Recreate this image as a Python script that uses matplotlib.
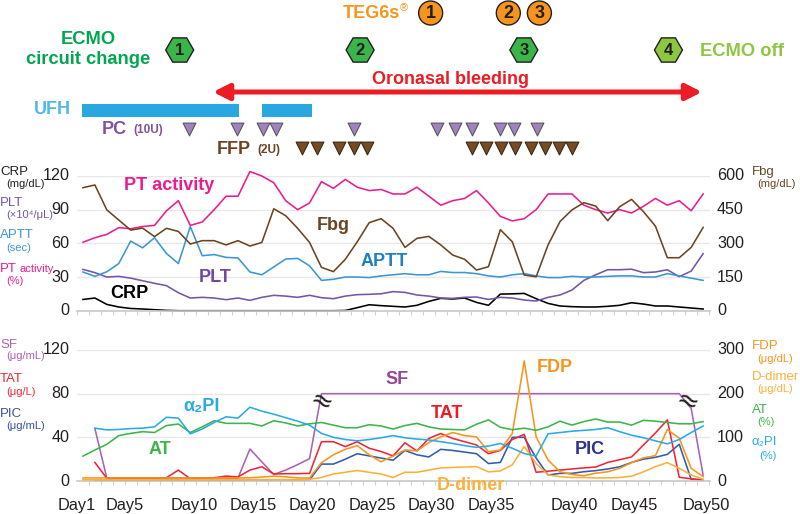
import matplotlib
matplotlib.use('Agg')
import matplotlib.pyplot as plt
from matplotlib.patches import Circle, RegularPolygon, Rectangle
from matplotlib.transforms import ScaledTranslation
import numpy as np

plt.rcParams['font.family'] = ['Liberation Sans', 'DejaVu Sans']

nan = float('nan')

# top panel
pt_activity = [61, 65, 68, 74, 73, 75, 76, 89, 98, 76, 79, 90, 102, 102, 124, 120, 114, 98, 90, 96, 115, 109, 117, 110, 107, 108,
               104, 104, 110, 102, 94, 98, 100, 107, 96, 84, 80, 82, 90, 104, 104, 104, 94, 90, 87, 90, 87, 93, 100, 94, 98, 89, 104]
aptt = [34.5, 30.6, 34.7, 42, 62, 56, 65, 51, 42, 75, 49, 50, 47.5, 47, 34.5, 32, 39, 46, 46.6, 40, 27, 28, 30, 30, 29.5, 31,
        32, 33, 32, 32, 35, 34, 34, 33, 31, 30, 32, 33, 31, 29.5, 29.5, 30.6, 30, 30, 30.6, 31, 31, 30, 30, 33, 31, 29, 27]
plt_count = [36.8, 33.9, 30, 30.6, 29, 26.7, 24.4, 22.3, 16, 11.3, 11.9, 11.3, 9.8, 11.3, 9.2, 11.9, 13.7, 13, 11.9, 13.7, 11.6, 10.7, 13, 14.3, 14.6, 15.1,
             17, 16.3, 14, 13, 11.3, 11, 11.9, 12.2, 10, 11.9, 11.3, 9.5, 8.6, 11.9, 14, 18.4, 27, 32, 36.5, 36.5, 37, 33.9, 34.5, 36.5, 30.3, 35.3, 50.8]
crp = [10, 11.3, 5.6, 3.3, 2, 1.5, 0.9, 0.3, 0, 0, 0, 0, 0, 0, 0, 0, 0, 0, 0, 0, 0, 0, 0.2, 2.7, 5.3, 4.5,
       3.9, 3.3, 4.8, 8.3, 11, 10.4, 11.3, 7.4, 4.8, 14.8, 15, 15.4, 10.7, 6.5, 4.2, 3.6, 3.3, 3.3, 3.9, 4.8, 7.1, 5.9, 4.2, 4.2, 3.3, 2.4, 1.5]
fbg = [548, 560, 449, 404, 359, 368, 330, 367, 353, 297, 312, 312, 293, 312, 288, 304, 454, 423, 367, 304, 193, 174, 229, 307, 392, 410,
       367, 282, 322, 331, 293, 248, 229, 181, 196, 361, 307, 159, 151, 293, 397, 449, 481, 466, 401, 463, 496, 441, 377, 236, 236, 282, 371]

# bottom panel
sf = [nan, 48, 2.7, 2.7, 2.7, 2.7, 2.7, 2.7, 2.7, 2.7, 2.7, 2.7, 2.7, 2.7, 29.3, 17.5, 6, 10, 15, 20.5, 80, 80, 80, 80, 80, 80,
      80, 80, 80, 80, 80, 80, 80, 80, 80, 80, 80, 80, 80, 80, 80, 80, 80, 80, 80, 80, 80, 80, 80, 80, 80, 66.5, 5.5]
tat = [nan, 17, 2.5, 2.5, 2.5, 2.5, 2.5, 3, 10, 2, 2.5, 3, 4.5, 3.7, 10, 13, 6.4, 6.7, 6.7, 7, 36, 36, 31.5, 36, 30, 27,
       23, 35, 27.5, 39, 43.5, 39, 36, 33, 25, 28, 38, 42.7, 8, 9, 10, 11, 12, 12.8, 17, 19.5, 22, 33, 44, 56, 3.4, 2, 1]
pic = [nan, 0.6, 0.6, 0.6, 0.6, 0.6, 0.6, 0.6, 0.6, 0.6, 0.6, 0.6, 0.6, 0.6, 0.8, 1, 1, 1, 1, 1, 15.5, 15.5, 20, 25, 23, 21,
       19, 28, 24, 22, 29, 28, 26.5, 25, 16, 17, 40, 40, 21, 5.5, 7, 7, 8.5, 9.5, 11, 13, 17, 20, 21.7, 24.4, 33.6, 1.5, 1]
fdp = [7, 7, 7, 7, 7, 7, 7, 7, 7, 7, 7, 7, 7, 7, 7.5, 9, 11, 9.5, 7, 7, 42, 60, 72.5, 81, 60, 44,
       57, 71, 69, 88, 101, 111, 104, 101, 67, 71, 109, 275, 101, 48, 21, 15, 12, 18, 21, 29, 42, 53, 58, 118, 98, 29, 10]
d_dimer = [3, 3, 3, 3, 3, 3, 3, 3, 3, 3, 3, 3, 3, 3, 3, 3, 3, 3, 3, 4, 8, 16, 20, 24, 20, 16,
           8, 20, 20, 25, 30, 31, 32, 33, 21, 23, 37, 79, 40, 14, 10, 8, 8, 7, 7, 8, 11, 21, 33, 42, 29, 14, 4]
at = [57, 71, 84, 104, 109, 113, 111, 127, 130.5, 111, 124, 138, 132, 132, 132, 126, 138, 133, 126, 131, 134, 128, 122, 122, 129, 126,
      119, 127, 132, 124, 119, 118, 117, 130, 140, 123, 117.5, 121, 116, 124, 137, 128, 136, 142, 135, 135, 128, 139, 137, 134, 131, 131, 136]
a2pi = [nan, 121, 117, 118, 120, 121, 124, 146, 144, 108, 119, 134, 147, 144, 169, 160, 153, 145, 137, 128, 109, 100, 95, 92, 95, 99,
        104, 99, 96, 94, 90, 86, 81, 77, 80, 86, 75, 63, 57, 108, 111, 114, 116, 118, 122, 113, 105, 99, 92, 85, 95, 111, 126]

days = np.arange(len(pt_activity))
day_labels = ['Day1', 'Day5', 'Day10', 'Day15', 'Day20', 'Day25', 'Day30', 'Day35', 'Day40', 'Day45', 'Day50']
day_pos = [-0.5, 3.54, 9.3, 14.25, 19.25, 24.25, 29.25, 34.25, 41.2, 46.2, 52.25]

# treatment marks, on the same day index
ufh_spans = [(0, 13.2), (15.1, 19.3)]
pc_days = [9, 13, 15.2, 16.3, 22.8, 29.7, 31.2, 32.7, 35, 36.2, 38.1]
ffp_days = [18.4, 19.7, 21.5, 22.8, 23.9, 32.7, 33.8, 35.1, 36.3, 37.6, 38.8, 39.9, 41]
teg_days = [29.2, 35.7, 38.3]
ecmo_days = [8.2, 23.3, 37, 49.1]

c_dark = '#231f20'
c_pt = '#EC1C8E'
c_fbg = '#6B4423'
c_aptt = '#3A96D6'
c_plt = '#7356A8'
c_sf = '#A864B4'
c_tat = '#EE2737'
c_fdp = '#F7941D'
c_dd = '#FBB03B'
c_pic = '#2F5DAE'
c_at = '#3CB54A'
c_a2 = '#29ABE2'

W, H = 800, 514
X0, DX = 81.7, 11.95
fig = plt.figure(figsize=(8, 5.14), dpi=100)


def day_x(d):
    return X0 + DX * d


def make_axes(top, bottom, ymax_left, yticks_left, ymax_right, yticks_right):
    ax = fig.add_axes([77 / W, 1 - bottom / H, (710 - 77) / W, (bottom - top) / H])
    ax.set_xlim((77 - X0) / DX, (710 - X0) / DX)
    ax.set_ylim(0, ymax_left)
    ax.set_yticks(yticks_left)
    ax.grid(axis='y', color='#e8e8e8', lw=1)
    ax.set_axisbelow(True)
    ax.set_xticks(np.arange(len(days) + 1) - 0.5, minor=True)
    ax.tick_params(axis='x', which='minor', length=3, width=0.8, color='#d0d0d0')
    ax.tick_params(axis='y', length=0, labelsize=11.6, pad=5.5, labelcolor=c_dark)
    for s in ['top', 'left', 'right']:
        ax.spines[s].set_visible(False)
    ax.spines['bottom'].set_color('#c8c8c8')
    ax.spines['bottom'].set_linewidth(1.2)
    ax2 = ax.twinx()
    ax2.set_ylim(0, ymax_right)
    ax2.set_yticks(yticks_right)
    ax2.tick_params(axis='y', length=0, labelsize=11.6, pad=5, labelcolor=c_dark)
    for s in ['top', 'left', 'right', 'bottom']:
        ax2.spines[s].set_visible(False)
    # the tick numbers sit a little above their grid lines
    up = ScaledTranslation(0, 1.5 / 72 * 0.72 * 1.0, fig.dpi_scale_trans)
    for a in (ax, ax2):
        for t in a.get_yticklabels():
            t.set_transform(t.get_transform() + up)
    return ax, ax2


ax1, ax1r = make_axes(176, 310.7, 120, [0, 30, 60, 90, 120], 600, [0, 150, 300, 450, 600])
ax2, ax2r = make_axes(350, 481, 120, [0, 40, 80, 120], 300, [0, 100, 200, 300])
ax1.set_xticks([])
ax2.set_xticks(day_pos, day_labels)
ax2.tick_params(axis='x', which='major', length=0, labelsize=11.8, pad=12.5, labelcolor=c_dark)

lw = 1.15
ax1.plot(days, crp, color='black', lw=lw, clip_on=False)
ax1.plot(days, plt_count, color=c_plt, lw=lw, clip_on=False)
ax1.plot(days, aptt, color=c_aptt, lw=lw, clip_on=False)
ax1.plot(days, pt_activity, color=c_pt, lw=lw, clip_on=False)
ax1r.plot(days, fbg, color=c_fbg, lw=lw, clip_on=False)

ax2.plot(days, sf, color=c_sf, lw=lw, clip_on=False)
ax2r.plot(days, d_dimer, color=c_dd, lw=lw, clip_on=False)
ax2.plot(days, pic, color=c_pic, lw=lw, clip_on=False)
ax2.plot(days, tat, color=c_tat, lw=lw, clip_on=False)
ax2r.plot(days, fdp, color=c_fdp, lw=lw, clip_on=False)
ax2r.plot(days, at, color=c_at, lw=lw, clip_on=False)
ax2r.plot(days, a2pi, color=c_a2, lw=lw, clip_on=False)

# overlay in pixel coordinates for the labels and treatment rows
ov = fig.add_axes([0, 0, 1, 1], zorder=10)
ov.set_xlim(0, W)
ov.set_ylim(H, 0)
ov.axis('off')
ov.patch.set_alpha(0)


def label(x, y, s, color, size=9.5, bold=False, ha='left'):
    ov.text(x, y + 1, s, color=color, fontsize=size, fontweight='bold' if bold else 'normal', ha=ha, va='center')


# TEG6s
label(343, 12, 'TEG6s', c_fdp, 13, True)
label(400, 7, '®', c_fdp, 8)
for i, d in enumerate(teg_days):
    x = day_x(d)
    ov.add_patch(Circle((x, 13), 12, fc=c_fdp, ec=c_dark, lw=1))
    label(x, 12, str(i + 1), c_dark, 13, True, ha='center')

# ECMO
label(88, 38, 'ECMO', '#00A651', 13.2, True, ha='center')
label(88, 58, 'circuit change', '#00A651', 13.2, True, ha='center')
label(700, 50, 'ECMO off', '#8DC63F', 13.2, True)
for i, d in enumerate(ecmo_days):
    x = day_x(d)
    fc = '#8DC63F' if i == 3 else '#39B54A'
    ov.add_patch(RegularPolygon((x, 50), 6, radius=14, orientation=np.pi / 6, fc=fc, ec=c_dark, lw=1))
    label(x, 49.5, str(i + 1), c_dark, 12, True, ha='center')

# bleeding arrow
label(450, 78, 'Oronasal bleeding', '#ED1C24', 13, True, ha='center')
ov.annotate('', xy=(702, 92), xytext=(213, 92),
            arrowprops=dict(arrowstyle='<|-|>,head_length=0.95,head_width=0.48', mutation_scale=10,
                            color='#ED1C24', lw=3.6, shrinkA=0, shrinkB=0))

# UFH, PC, FFP rows
label(52, 109, 'UFH', '#4FB8E8', 13, True, ha='center')
for a, b in ufh_spans:
    ov.add_patch(Rectangle((day_x(a), 104), day_x(b) - day_x(a), 13, fc='#29A7E1', ec='none'))
label(102, 128, 'PC', '#8152A0', 13, True)
label(133, 129, '(10U)', '#8152A0', 8.5, True)
label(217, 148, 'FFP', c_fbg, 13, True)
label(257, 149, '(2U)', c_fbg, 8.5, True)
ov.scatter([day_x(d) for d in pc_days], [129] * len(pc_days), marker='v', s=85, c='#A283C0', edgecolors='#58595B', linewidths=0.8)
ov.scatter([day_x(d) for d in ffp_days], [148] * len(ffp_days), marker='v', s=85, c='#754C24', edgecolors='#3C2A15', linewidths=0.8)

# top panel side labels
label(0, 171, 'CRP', c_dark)
label(6, 183, '(mg/dL)', c_dark, 8)
label(0, 202, 'PLT', c_plt)
label(6, 214, '(×10⁴/μL)', c_plt, 8)
label(0, 234, 'APTT', c_aptt)
label(6, 247, '(sec)', c_aptt, 8)
label(0, 268, 'PT', c_pt)
label(20, 268, 'activity', c_pt, 8)
label(6, 280, '(%)', c_pt, 8)
label(752, 171, 'Fbg', c_fbg)
label(757, 183, '(mg/dL)', c_fbg, 8)

# bottom panel side labels
label(0, 344, 'SF', c_sf)
label(6, 355, '(μg/mL)', c_sf, 8)
label(0, 378, 'TAT', c_tat)
label(6, 391, '(μg/L)', c_tat, 8)
label(0, 413, 'PIC', '#3A4FA3')
label(6, 425, '(μg/mL)', '#3A4FA3', 8)
label(752, 345, 'FDP', c_fdp)
label(757, 358, '(μg/dL)', c_fdp, 8)
label(752, 376, 'D-dimer', c_dd)
label(757, 388, '(μg/dL)', c_dd, 8)
label(752, 409, 'AT', c_at)
label(757, 421, '(%)', c_at, 8)
label(752, 441, 'α₂PI', c_a2)
label(759, 455, '(%)', c_a2, 8)

# series names inside the plots
label(124, 185, 'PT activity', c_pt, 13, True)
label(110, 292, 'CRP', 'black', 13, True)
label(199, 277, 'PLT', '#7048A0', 13, True)
label(317, 225, 'Fbg', c_fbg, 13, True)
label(361, 260, 'APTT', '#1F7FC4', 13, True)
label(385, 379, 'SF', '#93479B', 13, True)
label(183, 406, 'α₂PI', c_a2, 13, True)
label(149, 448, 'AT', c_at, 13, True)
label(431, 412, 'TAT', '#ED1C24', 13, True)
label(537, 367, 'FDP', c_fdp, 13, True)
label(575, 448, 'PIC', '#2E3192', 13, True)
label(437, 485, 'D-dimer', c_dd, 13, True)

# axis break marks on the SF line
for x in [320.7, 687]:
    ov.text(x, 403, '≈', fontsize=19, color=c_dark, ha='center', va='center', rotation=-25, family='DejaVu Sans')

fig.savefig('out.png', dpi=100)
